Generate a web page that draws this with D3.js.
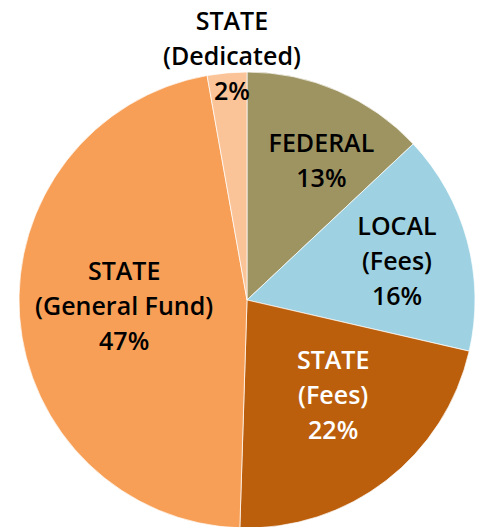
<!DOCTYPE html>
<html>
<head>
<meta charset="utf-8">
<script src="https://cdn.jsdelivr.net/npm/d3@7"></script>
<style>
  html, body { margin: 0; padding: 0; background: #ffffff; }
  svg { display: block; }
</style>
</head>
<body>
<svg id="chart" width="482" height="527"></svg>
<script>
// ---- data ----
const categories = ["FEDERAL", "LOCAL (Fees)", "STATE (Fees)", "STATE (General Fund)", "STATE (Dedicated)"];
const labelLines = [["FEDERAL"], ["LOCAL", "(Fees)"], ["STATE", "(Fees)"], ["STATE", "(General Fund)"], ["STATE", "(Dedicated)"]];
const shares = [13, 15.6, 21.9, 46.7, 2.8];
const percentLabels = ["13%", "16%", "22%", "47%", "2%"];
const colors = ["#9E9462", "#9ED2E2", "#BB5F0D", "#F79F56", "#FAC498"];
const textColors = ["#000000", "#000000", "#ffffff", "#000000", "#000000"];

// ---- layout ----
const W = 482, H = 527;
const cx = 247, cy = 300, R = 228;
const labelRadius = [158, 155, 128, 123, 244];
const labelAngleShift = [4.7, 0.5, -4.7, 1.4, 1.5]; // degrees
const lineH = 35, fontSize = 25;

const svg = d3.select("#chart");
const g = svg.append("g").attr("transform", `translate(${cx},${cy})`);

const pie = d3.pie().sort(null).value(d => d.v);
const data = categories.map((c, i) => ({ c, v: shares[i], i }));
const arcs = pie(data);
const arc = d3.arc().innerRadius(0).outerRadius(R);

g.selectAll("path.slice")
  .data(arcs)
  .enter().append("path")
  .attr("class", "slice")
  .attr("d", arc)
  .attr("fill", d => colors[d.data.i])
  .attr("stroke", "#ffffff")
  .attr("stroke-opacity", 0.7)
  .attr("stroke-width", 1);

arcs.forEach(a => {
  const i = a.data.i;
  const mid = (a.startAngle + a.endAngle) / 2 + labelAngleShift[i] * Math.PI / 180;
  const r = labelRadius[i];
  const x = r * Math.sin(mid);
  const y = -r * Math.cos(mid);
  const lines = labelLines[i].concat([percentLabels[i]]);
  const n = lines.length;
  const firstBase = y - (n - 1) * lineH / 2 + 9;
  const t = g.append("text")
    .attr("text-anchor", "middle")
    .attr("font-family", "'Open Sans', sans-serif")
    .attr("font-weight", 600)
    .attr("font-size", fontSize)
    .attr("fill", textColors[i]);
  lines.forEach((ln, k) => {
    t.append("tspan").attr("x", x).attr("y", firstBase + k * lineH).text(ln);
  });
});
</script>
</body>
</html>
